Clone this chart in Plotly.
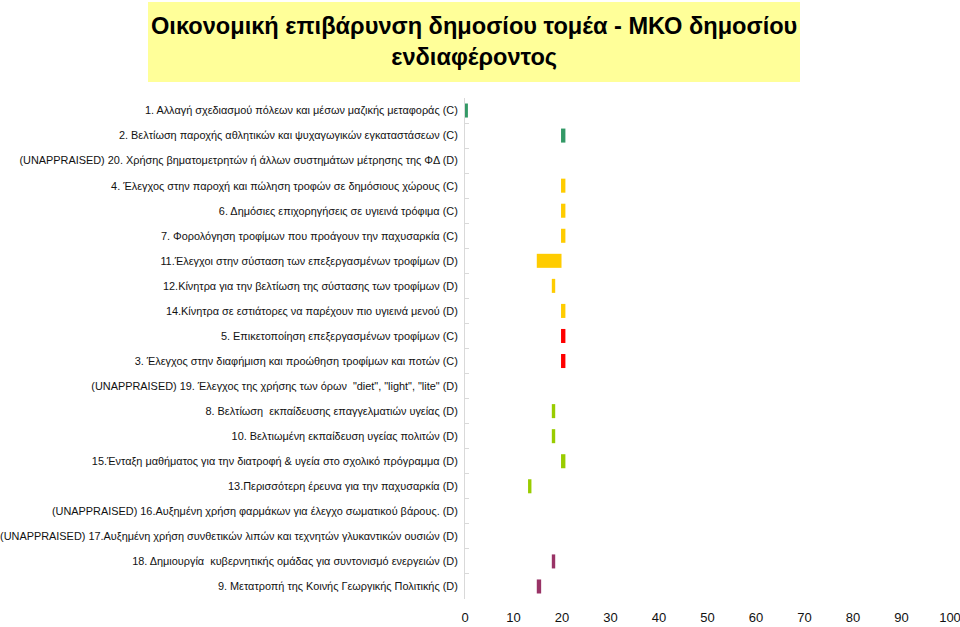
import plotly.graph_objects as go

categories = [
    "1. Αλλαγή σχεδιασμού πόλεων και μέσων μαζικής μεταφοράς (C)",
    "2. Βελτίωση παροχής αθλητικών και ψυχαγωγικών εγκαταστάσεων (C)",
    "(UNAPPRAISED) 20. Χρήσης βηματομετρητών ή άλλων συστημάτων μέτρησης της ΦΔ (D)",
    "4. Έλεγχος στην παροχή και πώληση τροφών σε δημόσιους χώρους (C)",
    "6. Δημόσιες επιχορηγήσεις σε υγιεινά τρόφιμα (C)",
    "7. Φορολόγηση τροφίμων που προάγουν την παχυσαρκία (C)",
    "11.Έλεγχοι στην σύσταση των επεξεργασμένων τροφίμων (D)",
    "12.Κίνητρα για την βελτίωση της σύστασης των τροφίμων (D)",
    "14.Κίνητρα σε εστιάτορες να παρέχουν πιο υγιεινά μενού (D)",
    "5. Επικετοποίηση επεξεργασμένων τροφίμων (C)",
    "3. Έλεγχος στην διαφήμιση και προώθηση τροφίμων και ποτών (C)",
    "(UNAPPRAISED) 19. Έλεγχος της χρήσης των όρων  \"diet\", \"light\", \"lite\" (D)",
    "8. Βελτίωση  εκπαίδευσης επαγγελματιών υγείας (D)",
    "10. Βελτιωμένη εκπαίδευση υγείας πολιτών (D)",
    "15.Ένταξη μαθήματος για την διατροφή & υγεία στο σχολικό πρόγραμμα (D)",
    "13.Περισσότερη έρευνα για την παχυσαρκία (D)",
    "(UNAPPRAISED) 16.Αυξημένη χρήση φαρμάκων για έλεγχο σωματικού βάρους. (D)",
    "(UNAPPRAISED) 17.Αυξημένη χρήση συνθετικών λιπών και τεχνητών γλυκαντικών ουσιών (D)",
    "18. Δημιουργία  κυβερνητικής ομάδας για συντονισμό ενεργειών (D)",
    "9. Μετατροπή της Κοινής Γεωργικής Πολιτικής (D)",
]

low_values = [0.0, 19.8, None, 19.8, 19.8, 19.8, 14.8, 17.9, 19.8, 19.8, 19.8, None,
              17.9, 17.9, 19.8, 13.0, None, None, 17.9, 14.8]
high_values = [0.6, 20.7, None, 20.7, 20.7, 20.7, 19.9, 18.6, 20.7, 20.7, 20.7, None,
               18.6, 18.6, 20.7, 13.7, None, None, 18.6, 15.7]

bar_colors = ["#339966", "#339966", "#339966",
              "#FFCC00", "#FFCC00", "#FFCC00", "#FFCC00", "#FFCC00", "#FFCC00",
              "#FF0000", "#FF0000", "#FF0000",
              "#99CC00", "#99CC00", "#99CC00", "#99CC00", "#99CC00", "#99CC00",
              "#993366", "#993366"]

x_ticks = [0, 10, 20, 30, 40, 50, 60, 70, 80, 90, 100]

lengths = [None if (l is None or h is None) else h - l for l, h in zip(low_values, high_values)]

fig = go.Figure()
fig.add_trace(go.Bar(
    y=categories,
    x=lengths,
    base=low_values,
    orientation="h",
    marker=dict(color=bar_colors, line=dict(width=0)),
    width=0.56,
    hoverinfo="skip",
))

label_font = dict(family="Liberation Sans, Arial, sans-serif", size=10.9, color="#111111")

fig.update_layout(
    width=960, height=627,
    margin=dict(l=465, r=10, t=98, b=28, autoexpand=False),
    paper_bgcolor="white",
    plot_bgcolor="white",
    showlegend=False,
    bargap=0.44,
    xaxis=dict(
        range=[0, 100],
        tickvals=x_ticks,
        ticktext=[str(v) for v in x_ticks],
        showgrid=False,
        zeroline=False,
        showline=False,
        ticks="",
        tickfont=dict(family="Liberation Sans, Arial, sans-serif", size=13, color="#111111"),
        ticklabeloverflow="allow",
        ticklabelstandoff=9,
        fixedrange=True,
    ),
    yaxis=dict(
        type="category",
        categoryorder="array",
        categoryarray=categories,
        autorange="reversed",
        showgrid=False,
        zeroline=False,
        showline=True,
        linecolor="#D9D9D9",
        linewidth=1,
        ticks="inside",
        tickson="boundaries",
        ticklen=4,
        tickcolor="#D9D9D9",
        tickfont=label_font,
        ticklabelstandoff=4,
        fixedrange=True,
    ),
    shapes=[dict(
        type="rect", xref="paper", yref="paper",
        x0=(148 - 465) / 485, x1=(800 - 465) / 485,
        y0=(599 - 82) / 501, y1=(599 - 2) / 501,
        fillcolor="#FFFF99", line=dict(width=0), layer="below",
    )],
    annotations=[dict(
        text="<b>Οικονομική επιβάρυνση δημοσίου τομέα - ΜΚΟ δημοσίου<br>ενδιαφέροντος</b>",
        xref="paper", yref="paper",
        x=(474 - 465) / 485, y=(599 - 41) / 501,
        xanchor="center", yanchor="middle",
        showarrow=False,
        font=dict(family="Liberation Sans, Arial, sans-serif", size=23.6, color="#000000"),
        align="center",
    )],
)

fig.write_html("out.html")
